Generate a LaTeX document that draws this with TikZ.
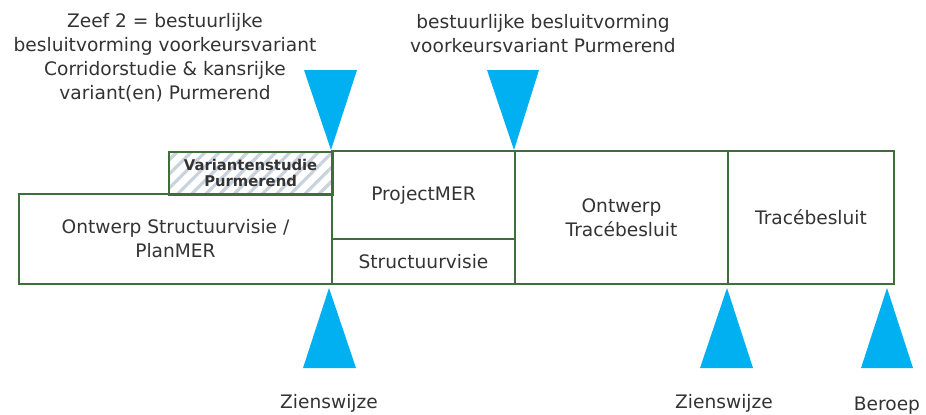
\documentclass[tikz,border=0pt]{standalone}
\usepackage{fontspec}
\setmainfont{DejaVu Sans}
\usetikzlibrary{patterns.meta}
\definecolor{kader}{HTML}{3E6E3A}
\definecolor{mijl}{HTML}{00B0F0}
\definecolor{tekst}{HTML}{333333}
\definecolor{arcering}{HTML}{C9D3DD}
\newcommand\pxu{0.5pt}
\tikzset{
  fase/.style={draw=kader, line width=1pt, anchor=north west, inner sep=0pt,
    align=center, text=tekst, font=\fontsize{9.3}{12}\selectfont},
  mijlpaal/.style={fill=mijl, draw=none},
  noot/.style={align=center, text=tekst, font=\fontsize{9.3}{12}\selectfont}
}
\begin{document}
\begin{tikzpicture}[x=\pxu, y=-\pxu]
  \useasboundingbox (0,0) rectangle (926,414);
  % fasen
  \node[fase, minimum width=164*\pxu, minimum height=43*\pxu,
    pattern={Lines[angle=45, distance=5pt, line width=1.6pt]}, pattern color=arcering,
    font=\fontsize{7.4}{8.3}\selectfont\bfseries] (varstudie) at (167,150) {Variantenstudie\\Purmerend};
  \node[fase, minimum width=313*\pxu, minimum height=90*\pxu] (structvisie) at (18,193) {Ontwerp Structuurvisie /\\PlanMER};
  \node[fase, minimum width=183*\pxu, minimum height=88*\pxu] (projmer) at (331,150) {ProjectMER};
  \node[fase, minimum width=183*\pxu, minimum height=45*\pxu] (sv) at (331,238) {Structuurvisie};
  \node[fase, minimum width=213*\pxu, minimum height=133*\pxu] (otb) at (514,150) {Ontwerp\\Tracébesluit};
  \node[fase, minimum width=166*\pxu, minimum height=133*\pxu] (tb) at (727,150) {Tracébesluit};
  % besluitmomenten boven
  \fill[mijlpaal] (304,70) -- (357,70) -- (projmer.north west) -- cycle;
  \fill[mijlpaal] (487,70) -- (539,70) -- (otb.north west) -- cycle;
  \node[noot] (zeef) at (165,58) {Zeef 2 = bestuurlijke\\besluitvorming voorkeursvariant\\Corridorstudie \& kansrijke\\variant(en) Purmerend};
  \node[noot] (besluit) at (543,34) {bestuurlijke besluitvorming\\voorkeursvariant Purmerend};
  % inspraakmomenten onder
  \fill[mijlpaal] (329,288) -- (356,368) -- (303,368) -- cycle;
  \fill[mijlpaal] (727,288) -- (753,368) -- (700,368) -- cycle;
  \fill[mijlpaal] (887,288) -- (913,368) -- (861,368) -- cycle;
  \node[noot] (zw1) at (329,403) {Zienswijze};
  \node[noot] (zw2) at (724,403) {Zienswijze};
  \node[noot] (beroep) at (887,406) {Beroep};
\end{tikzpicture}
\end{document}
